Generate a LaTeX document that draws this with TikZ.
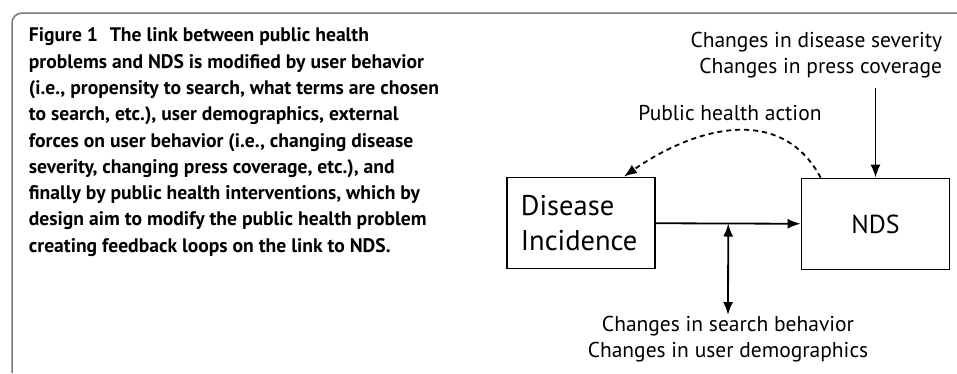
\documentclass[tikz,border=0pt]{standalone}
\usepackage{fontspec}
\setmainfont{PT Sans}
\usetikzlibrary{arrows.meta,positioning}
\definecolor{framegray}{RGB}{120,120,120}

\begin{document}
\begin{tikzpicture}[x=1pt, y=-1pt, line width=1.8pt,
  >={Latex[length=13pt,width=10pt]},
  box/.style = {draw, minimum width=148pt, minimum height=91pt},
  lbl/.style = {font=\fontsize{21.5}{26.4}\selectfont, inner sep=0pt}]
\useasboundingbox (0,0) rectangle (957,373);
% frame and caption
\draw[framegray, line width=1.5pt, rounded corners=10pt] (957,13) -- (12,13) -- (12,373);
\node[anchor=north west, align=left, inner sep=0pt,
  font=\fontsize{19.6}{26.3}\selectfont\bfseries] (cap) at (28,27)
  {Figure 1\hspace{0.6em}The link between public health\\
   problems and NDS is modified by user behavior\\
   (i.e., propensity to search, what terms are chosen\\
   to search, etc.), user demographics, external\\
   forces on user behavior (i.e., changing disease\\
   severity, changing press coverage, etc.), and\\
   finally by public health interventions, which by\\
   design aim to modify the public health problem\\
   creating feedback loops on the link to NDS.};
% diagram
\node[box] (dis) at (581,223) {};
\node[anchor=west, align=left, inner sep=0pt,
  font=\fontsize{28.5}{35}\selectfont] (distxt) at (520,223) {Disease\\Incidence};
\node[box, font=\fontsize{26}{35}\selectfont] (nds) at (875.5,224) {NDS};
\node[lbl, align=right, anchor=north east] (ext) at (943,31) {Changes in disease severity\\Changes in press coverage};
\node[lbl, align=center, anchor=north] (usr) at (728,315) {Changes in search behavior\\Changes in user demographics};
\node[lbl] (act) at (730,113) {Public health action};
\draw[->] (dis) -- coordinate (mid) (nds);
\draw[->] (nds.north |- 0,88) -- (nds.north);
\draw[<->] (mid) -- (usr.north);
\draw[->, dashed, dash pattern=on 5pt off 4pt]
  ([xshift=20pt]nds.north west) to[out=118, in=35, looseness=1.1] ([xshift=-32pt]dis.north east);
\end{tikzpicture}
\end{document}
